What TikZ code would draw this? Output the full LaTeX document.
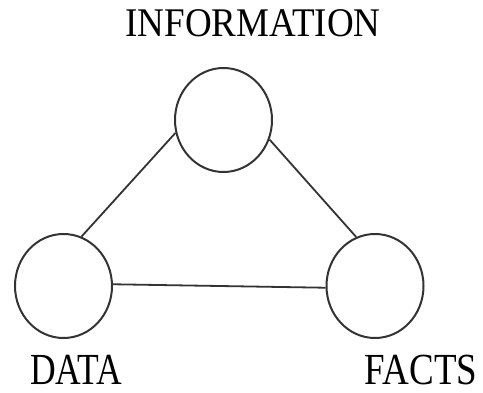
\documentclass[tikz,border=0pt]{standalone}
\usepackage{fontspec}
\setmainfont{Liberation Serif}
\usepackage{graphicx}
\usetikzlibrary{shapes.geometric}
\begin{document}
\begin{tikzpicture}[x=1pt,y=-1pt,
  ring/.style={ellipse,draw=black!80,line width=2pt,inner sep=0pt,
    minimum width=97pt,minimum height=104pt},
  link/.style={draw=black!80,line width=1.8pt},
  caption/.style={anchor=base,inner sep=0pt,text=black,
    font=\fontsize{37}{40}\selectfont}]
  \useasboundingbox (0,0) rectangle (483,393);

  % the three circles
  \node[ring] (info)  at (223.5,120) {};
  \node[ring] (data)  at (63.5,286)  {};
  \node[ring] (facts) at (375,286)   {};

  % connecting edges
  \draw[link] (data.70)  -- (info.195);
  \draw[link] (info.337) -- (facts.111);
  \draw[link] (data.2)   -- (facts.182);

  % labels
  \node[caption] (tinfo)  at (253,37)    {\scalebox{1.0}[1.1]{INFORMATION}};
  \node[caption] (tdata)  at (76,385)    {\scalebox{0.96}[1.2]{DATA}};
  \node[caption] (tfacts) at (421,385)   {\scalebox{1.0}[1.2]{FACTS}};
\end{tikzpicture}
\end{document}
